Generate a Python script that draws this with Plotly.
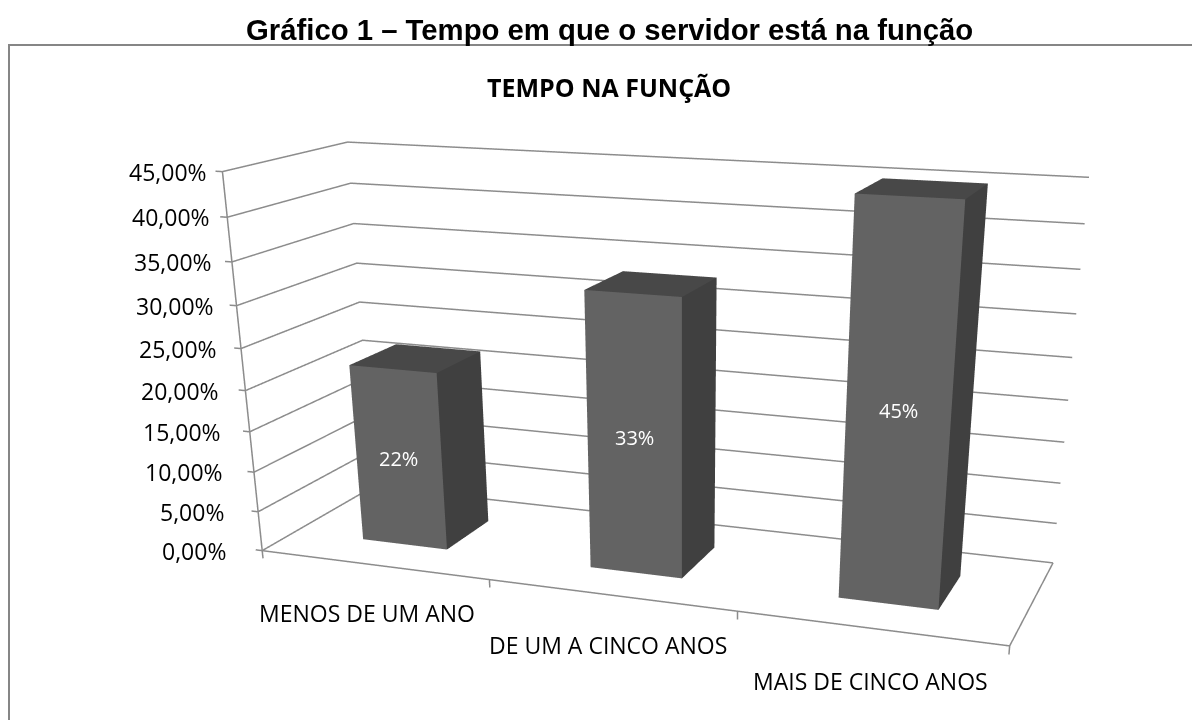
import plotly.graph_objects as go

categories = ["MENOS DE UM ANO", "DE UM A CINCO ANOS", "MAIS DE CINCO ANOS"]
values = [22, 33, 45]
value_labels = ["22%", "33%", "45%"]
z_ticks = [0, 5, 10, 15, 20, 25, 30, 35, 40, 45]
z_tick_labels = ["0,00%", "5,00%", "10,00%", "15,00%", "20,00%", "25,00%", "30,00%", "35,00%", "40,00%", "45,00%"]

BAR_WIDTH = 0.3785
DEPTH = (0.2842, 0.7025)
TICK_X = 0.03   # length of the percent ticks, in categories
TICK_Z = 1      # length of the category ticks, in percent
LINE_GRAY = "#8c8c8c"
FONT = "Open Sans"

# the excel perspective is flatter than plotly's fixed 45 degree view, so the
# scene is made bigger than the window and only its upper part is on screen.
# the page body has an 8px margin, so paper coordinates are screen minus 8
WIDTH, HEIGHT = 1347, 1500


def paper_x(px):
    return (px - 8) / WIDTH


def paper_y(py):
    return 1 - (py - 8) / HEIGHT


fig = go.Figure()


def add_bar(center, value):
    # only the three faces the camera can see
    x0, x1 = center - BAR_WIDTH / 2, center + BAR_WIDTH / 2
    y0, y1 = DEPTH
    fig.add_trace(go.Mesh3d(
        x=[x0, x1, x1, x0, x0, x1, x1, x0],
        y=[y0, y0, y1, y1, y0, y0, y1, y1],
        z=[0, 0, 0, 0, value, value, value, value],
        i=[0, 0, 1, 1, 4, 4],
        j=[1, 5, 2, 6, 5, 6],
        k=[5, 4, 6, 5, 6, 7],
        facecolor=["#636363", "#636363", "#404040", "#404040", "#484848", "#484848"],
        flatshading=True,
        lighting=dict(ambient=1, diffuse=0, specular=0, fresnel=0, roughness=1),
        hoverinfo="skip",
        showscale=False,
    ))


for n, value in enumerate(values):
    add_bar(n + 0.5, value)

# walls, floor and ticks are plain lines, plotly's own gl ticks cannot point this way
n_cat = len(categories)
top = z_ticks[-1]
lx, ly, lz = [], [], []


def add_line(*points):
    for px, py, pz in points:
        lx.append(px)
        ly.append(py)
        lz.append(pz)
    lx.append(None)
    ly.append(None)
    lz.append(None)


for t in z_ticks:
    add_line((-TICK_X, 0, t), (0, 0, t), (0, 1, t), (n_cat, 1, t))
add_line((0, 0, -TICK_Z), (0, 0, top))
add_line((0, 0, 0), (n_cat, 0, 0), (n_cat, 1, 0))
for k in range(1, n_cat + 1):
    add_line((k, 0, 0), (k, 0, -TICK_Z))

fig.add_trace(go.Scatter3d(
    x=lx, y=ly, z=lz, mode="lines",
    line=dict(color=LINE_GRAY, width=3),
    hoverinfo="skip", showlegend=False,
))

scene_notes = []
shifts = [(-6, -48), (-3, -50), (0, -53)]
for n, name in enumerate(categories):
    scene_notes.append(dict(
        x=n + 0.5, y=0, z=0, text=name, showarrow=False,
        xshift=shifts[n][0], yshift=shifts[n][1],
        font=dict(family=FONT, size=23, color="#000000"),
    ))
    scene_notes.append(dict(
        x=n + 0.5, y=DEPTH[0], z=values[n] / 2, text=value_labels[n], showarrow=False,
        font=dict(family=FONT, size=20, color="#ffffff"),
    ))
for t, label in zip(z_ticks, z_tick_labels):
    # the reference labels lean less than this camera's axis does
    scene_notes.append(dict(
        x=0, y=0, z=t, text=label, showarrow=False,
        xanchor="right", xshift=-34 + 21 * t / top,
        font=dict(family=FONT, size=23, color="#000000"),
    ))

fig.update_layout(
    width=WIDTH, height=HEIGHT,
    margin=dict(l=0, r=0, t=0, b=0),
    paper_bgcolor="#ffffff",
    showlegend=False,
    font=dict(family=FONT, color="#000000"),
    scene=dict(
        domain=dict(x=[0, 1], y=[0, 1]),
        aspectmode="manual",
        aspectratio=dict(x=2.1035, y=0.6471, z=47 / 45),
        camera=dict(
            eye=dict(x=1.6563, y=-4.3845, z=1.1316),
            center=dict(x=0.3186, y=-0.6644, z=-0.7574),
            up=dict(x=0, y=0, z=1),
            projection=dict(type="perspective"),
        ),
        xaxis=dict(range=[-TICK_X, n_cat + TICK_X], visible=False),
        yaxis=dict(range=[-0.01, 1.01], visible=False),
        zaxis=dict(range=[-TICK_Z, top + TICK_Z], visible=False),
        annotations=scene_notes,
    ),
    # the frame runs off the right and bottom of the window
    shapes=[dict(
        type="path", xref="paper", yref="paper",
        path=f"M {paper_x(9)} {paper_y(720)} L {paper_x(9)} {paper_y(45)} L 1 {paper_y(45)}",
        line=dict(color="#868686", width=2), layer="below",
    )],
    annotations=[
        dict(
            xref="paper", yref="paper", x=paper_x(609), y=paper_y(29), showarrow=False,
            xanchor="center", yanchor="middle",
            text="<b>Gráfico 1 – Tempo em que o servidor está na função</b>",
            font=dict(family="Liberation Sans", size=29.3, color="#000000"),
        ),
        dict(
            xref="paper", yref="paper", x=paper_x(609), y=paper_y(87), showarrow=False,
            xanchor="center", yanchor="middle",
            text="<b>TEMPO NA FUNÇÃO</b>",
            font=dict(family=FONT, size=25, color="#000000"),
        ),
    ],
)

fig.write_html("out.html")
